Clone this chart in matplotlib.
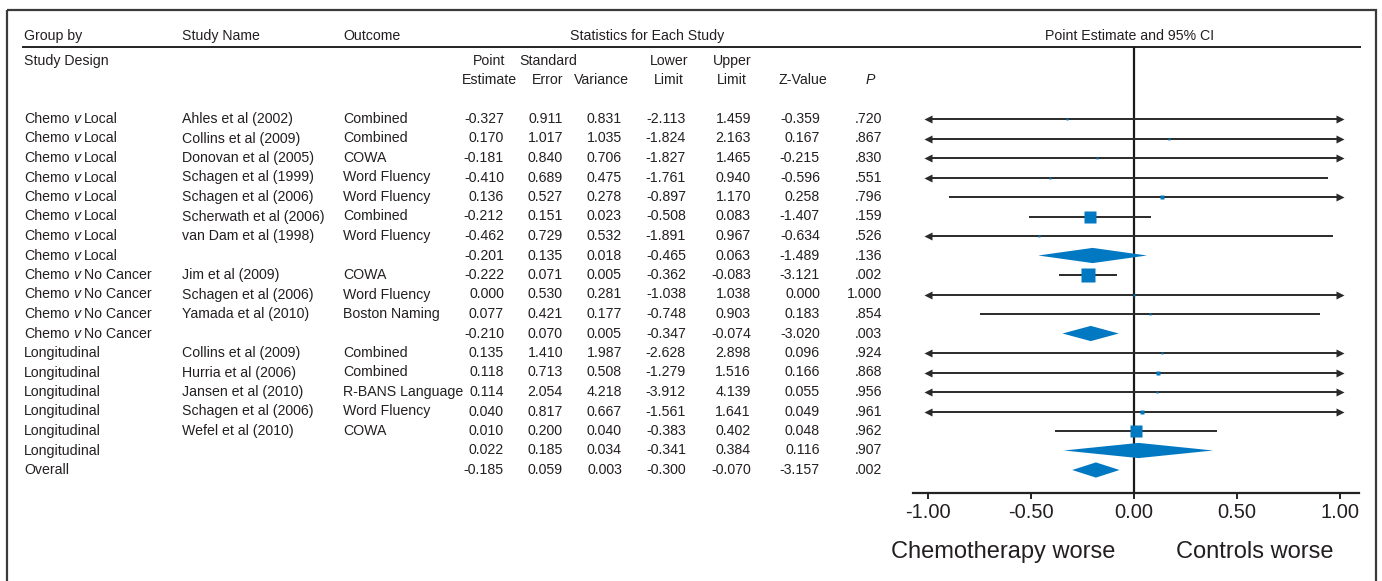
import matplotlib
matplotlib.use("Agg")
import matplotlib.pyplot as plt
import matplotlib.transforms as mtransforms
from matplotlib.patches import Polygon, Rectangle
import numpy as np

FONT = ['Liberation Sans Narrow', 'DejaVu Sans Condensed', 'Liberation Sans', 'DejaVu Sans']
plt.rcParams['font.family'] = FONT

# ---------------- data ----------------
groups = ["Chemo|v|Local"] * 8 + ["Chemo|v|No Cancer"] * 4 + ["Longitudinal"] * 6 + ["Overall"]
studies = ["Ahles et al (2002)", "Collins et al (2009)", "Donovan et al (2005)", "Schagen et al (1999)",
           "Schagen et al (2006)", "Scherwath et al (2006)", "van Dam et al (1998)", "",
           "Jim et al (2009)", "Schagen et al (2006)", "Yamada et al (2010)", "",
           "Collins et al (2009)", "Hurria et al (2006)", "Jansen et al (2010)", "Schagen et al (2006)",
           "Wefel et al (2010)", "", ""]
outcomes = ["Combined", "Combined", "COWA", "Word Fluency", "Word Fluency", "Combined", "Word Fluency", "",
            "COWA", "Word Fluency", "Boston Naming", "",
            "Combined", "Combined", "R-BANS Language", "Word Fluency", "COWA", "", ""]
point = [-0.327, 0.170, -0.181, -0.410, 0.136, -0.212, -0.462, -0.201,
         -0.222, 0.000, 0.077, -0.210,
         0.135, 0.118, 0.114, 0.040, 0.010, 0.022, -0.185]
stderr = [0.911, 1.017, 0.840, 0.689, 0.527, 0.151, 0.729, 0.135,
          0.071, 0.530, 0.421, 0.070,
          1.410, 0.713, 2.054, 0.817, 0.200, 0.185, 0.059]
variance = [0.831, 1.035, 0.706, 0.475, 0.278, 0.023, 0.532, 0.018,
            0.005, 0.281, 0.177, 0.005,
            1.987, 0.508, 4.218, 0.667, 0.040, 0.034, 0.003]
lower = [-2.113, -1.824, -1.827, -1.761, -0.897, -0.508, -1.891, -0.465,
         -0.362, -1.038, -0.748, -0.347,
         -2.628, -1.279, -3.912, -1.561, -0.383, -0.341, -0.300]
upper = [1.459, 2.163, 1.465, 0.940, 1.170, 0.083, 0.967, 0.063,
         -0.083, 1.038, 0.903, -0.074,
         2.898, 1.516, 4.139, 1.641, 0.402, 0.384, -0.070]
zvalue = [-0.359, 0.167, -0.215, -0.596, 0.258, -1.407, -0.634, -1.489,
          -3.121, 0.000, 0.183, -3.020,
          0.096, 0.166, 0.055, 0.049, 0.048, 0.116, -3.157]
pvalue = [".720", ".867", ".830", ".551", ".796", ".159", ".526", ".136",
          ".002", "1.000", ".854", ".003",
          ".924", ".868", ".956", ".961", ".962", ".907", ".002"]
is_summary = [False] * 7 + [True] + [False] * 3 + [True] + [False] * 5 + [True, True]
tick_values = [-1.0, -0.5, 0.0, 0.5, 1.0]
tick_labels = ["-1.00", "-0.50", "0.00", "0.50", "1.00"]

# ---------------- layout ----------------
W, H = 1382, 581
fig = plt.figure(figsize=(W / 100, H / 100), dpi=100)
bg = fig.add_axes([0, 0, 1, 1])
bg.set_xlim(0, W)
bg.set_ylim(H, 0)
bg.axis('off')

TXT = '#231f20'
BLUE = '#0079c2'
FS = 10.2

# frame & header line
bg.add_patch(Rectangle((7, 10), 1369, 600, fill=False, lw=1.6, ec='#3a3a3a'))
bg.plot([22, 1361], [47, 47], color='#222222', lw=1.4, solid_capstyle='butt')

# forest axes
x0px, x1px = 913, 1359
ytop, ybot = 47, 493
zero_px, unit_px = 1134, 206
row0, drow = 119, 19.5
fax = fig.add_axes([x0px / W, (H - ybot) / H, (x1px - x0px) / W, (ybot - ytop) / H])
fax.set_xlim((x0px - zero_px) / unit_px, (x1px - zero_px) / unit_px)
fax.set_ylim((ybot - row0) / drow, (ytop - row0) / drow)
fax.patch.set_alpha(0)
for s in ['top', 'left', 'right']:
    fax.spines[s].set_visible(False)
fax.spines['bottom'].set_linewidth(1.6)
fax.spines['bottom'].set_color('#222222')
fax.set_yticks([])
fax.set_xticks(tick_values)
fax.set_xticklabels(tick_labels)
fax.tick_params(axis='x', direction='out', length=4.5, width=1.4, color='#222222',
                labelsize=14.5, labelcolor=TXT, pad=3)

# text transform: x in pixels, y in rows
ttrans = mtransforms.blended_transform_factory(bg.transData, fax.transData)

# headers
bg.text(24, 36, "Group by", fontsize=FS, color=TXT, va='center', ha='left')
bg.text(182, 36, "Study Name", fontsize=FS, color=TXT, va='center', ha='left')
bg.text(343, 36, "Outcome", fontsize=FS, color=TXT, va='center', ha='left')
bg.text(647, 36, "Statistics for Each Study", fontsize=FS, color=TXT, va='center', ha='center')
bg.text(1130, 36, "Point Estimate and 95% CI", fontsize=FS, color=TXT, va='center', ha='center')
bg.text(24, 61, "Study Design", fontsize=FS, color=TXT, va='center', ha='left')
hdr = [(489, "Point", "Estimate"), (548, "Standard", "Error"), (601, "", "Variance"),
       (669, "Lower", "Limit"), (732, "Upper", "Limit"), (803, "", "Z-Value"), (870, "", "P")]
for xc, l1, l2 in hdr:
    if l1:
        bg.text(xc, 61, l1, fontsize=FS, color=TXT, va='center', ha='center')
    bg.text(xc, 80, l2, fontsize=FS, color=TXT, va='center', ha='center',
            style='italic' if l2 == "P" else 'normal')

# table rows
col_right = [504, 563, 622, 686, 751, 820, 882]
for i in range(len(groups)):
    kw = dict(fontsize=FS, color=TXT, va='center', transform=ttrans)
    parts = groups[i].split("|")
    t = bg.text(24, i, parts[0], ha='left', **kw)
    if len(parts) == 3:
        t2 = bg.annotate(parts[1], xy=(1, 0), xycoords=t, xytext=(2.6, 0), textcoords='offset points',
                         ha='left', va='bottom', fontsize=FS, color=TXT, style='italic')
        bg.annotate(parts[2], xy=(1, 0), xycoords=t2, xytext=(2.4, 0), textcoords='offset points',
                    ha='left', va='bottom', fontsize=FS, color=TXT)
    bg.text(182, i, studies[i], ha='left', **kw)
    bg.text(343, i, outcomes[i], ha='left', **kw)
    vals = [f"{point[i]:.3f}", f"{stderr[i]:.3f}", f"{variance[i]:.3f}", f"{lower[i]:.3f}",
            f"{upper[i]:.3f}", f"{zvalue[i]:.3f}", pvalue[i]]
    for xr, v in zip(col_right, vals):
        bg.text(xr, i, v, ha='right', **kw)

# zero line
fax.axvline(0, color='#1a1a1a', lw=1.6, zorder=2)

# forest marks
xmin, xmax = -1.0, 1.0
pt_per_px = 0.72
grp_key = [g for g in groups]
weights = np.array([1.0 / v for v in variance])
for i in range(len(point)):
    y = i
    if is_summary[i]:
        h = 0.39
        poly = Polygon([[lower[i], y], [point[i], y - h], [upper[i], y], [point[i], y + h]],
                       closed=True, fc=BLUE, ec='none', zorder=4)
        fax.add_patch(poly)
        continue
    lo = max(lower[i], xmin)
    hi = min(upper[i], xmax)
    fax.plot([lo, hi], [y, y], color='#2a2a2a', lw=1.4, zorder=3, solid_capstyle='butt')
    if lower[i] < xmin:
        fax.plot([xmin], [y], marker='<', ms=5.5, color='#2a2a2a', mec='none', zorder=3)
    if upper[i] > xmax:
        fax.plot([xmax], [y], marker='>', ms=5.5, color='#2a2a2a', mec='none', zorder=3)
    members = [j for j in range(len(point)) if grp_key[j] == grp_key[i] and not is_summary[j]]
    rel = weights[i] / weights[members].sum()
    side_px = max(2.0, 14.0 * np.sqrt(rel))
    fax.plot([point[i]], [y], marker='s', ms=side_px * pt_per_px, color=BLUE, mec='none', zorder=5)

# direction labels
bg.text(1003, 552, "Chemotherapy worse", fontsize=17, color=TXT, va='center', ha='center')
bg.text(1255, 552, "Controls worse", fontsize=17, color=TXT, va='center', ha='center')

fig.savefig("out.png", dpi=100)
